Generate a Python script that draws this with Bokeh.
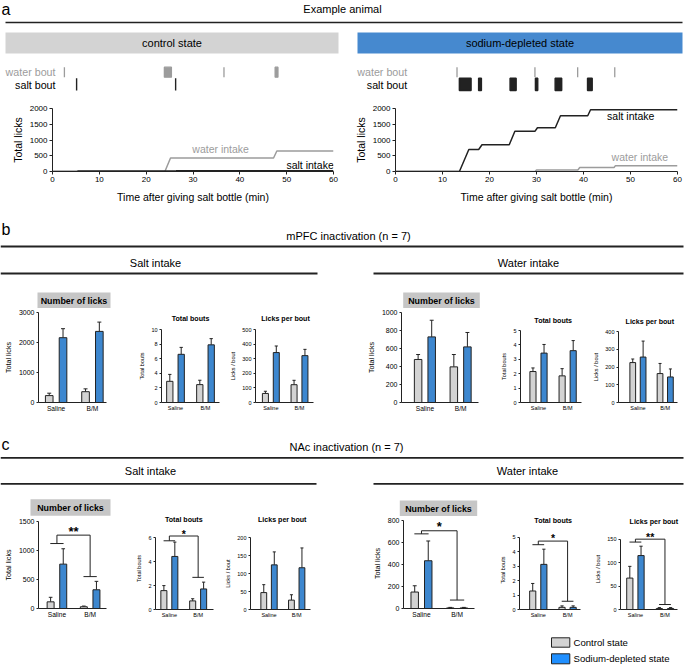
import numpy as np
from bokeh.plotting import figure
from bokeh.layouts import column, row
from bokeh.models import Range1d, FixedTicker
from bokeh.core.properties import value
from bokeh.embed import file_html
from bokeh.resources import INLINE

# ---------------- data: panel a (example animal) ----------------
time_ticks = [0, 10, 20, 30, 40, 50, 60]
lick_ticks = [0, 500, 1000, 1500, 2000]

ctrl_water_time = [0, 24.0, 25.2, 47.2, 47.9, 60]
ctrl_water_licks = [0, 0, 430, 430, 650, 650]
ctrl_salt_time = [0, 5.2, 5.4, 26.2, 26.5, 60]
ctrl_salt_licks = [0, 0, 12, 12, 25, 25]
ctrl_water_bout_start = [2.6, 23.9, 36.6, 47.5]
ctrl_water_bout_end = [2.6, 25.4, 36.6, 48.1]
ctrl_salt_bout_start = [5.2, 26.3]
ctrl_salt_bout_end = [5.2, 26.3]

dep_salt_time = [0, 13.6, 15.6, 17.7, 18.4, 24.2, 25.4, 29.7, 30.2, 34.0, 35.1, 40.9, 41.5, 60]
dep_salt_licks = [0, 0, 700, 700, 850, 850, 1280, 1280, 1390, 1390, 1770, 1770, 1960, 1960]
dep_water_time = [0, 29.7, 30.0, 38.8, 39.2, 46.5, 46.8, 60]
dep_water_licks = [0, 0, 50, 50, 125, 125, 185, 185]
dep_water_bout_start = [13.1, 29.7, 38.8, 46.7]
dep_water_bout_end = [13.1, 29.7, 38.8, 46.7]
dep_salt_bout_start = [13.6, 17.7, 24.4, 29.8, 34.0, 40.9]
dep_salt_bout_end = [16.1, 18.3, 25.7, 30.3, 35.4, 41.9]

# ---------------- data: bar charts ----------------
groups = ["Saline", "B/M"]
legend_labels = ["Control state", "Sodium-depleted state"]

# mPFC inactivation - salt intake
mpfc_salt_licks_ctrl = [230, 360]
mpfc_salt_licks_ctrl_err = [80, 95]
mpfc_salt_licks_dep = [2160, 2370]
mpfc_salt_licks_dep_err = [300, 310]
mpfc_salt_bouts_ctrl = [2.9, 2.45]
mpfc_salt_bouts_ctrl_err = [0.95, 0.6]
mpfc_salt_bouts_dep = [6.6, 7.9]
mpfc_salt_bouts_dep_err = [0.95, 0.85]
mpfc_salt_lpb_ctrl = [62, 122]
mpfc_salt_lpb_ctrl_err = [15, 30]
mpfc_salt_lpb_dep = [342, 321]
mpfc_salt_lpb_dep_err = [45, 43]
# mPFC inactivation - water intake
mpfc_water_licks_ctrl = [478, 396]
mpfc_water_licks_ctrl_err = [55, 137]
mpfc_water_licks_dep = [729, 618]
mpfc_water_licks_dep_err = [185, 160]
mpfc_water_bouts_ctrl = [2.15, 1.85]
mpfc_water_bouts_ctrl_err = [0.25, 0.5]
mpfc_water_bouts_dep = [3.43, 3.6]
mpfc_water_bouts_dep_err = [0.6, 0.7]
mpfc_water_lpb_ctrl = [225, 163]
mpfc_water_lpb_ctrl_err = [20, 57]
mpfc_water_lpb_dep = [256, 144]
mpfc_water_lpb_dep_err = [90, 45]

# NAc inactivation - salt intake
nac_salt_licks_ctrl = [115, 30]
nac_salt_licks_ctrl_err = [78, 12]
nac_salt_licks_dep = [765, 323]
nac_salt_licks_dep_err = [265, 145]
nac_salt_bouts_ctrl = [1.58, 0.72]
nac_salt_bouts_ctrl_err = [0.42, 0.18]
nac_salt_bouts_dep = [4.44, 1.72]
nac_salt_bouts_dep_err = [1.2, 0.57]
nac_salt_lpb_ctrl = [47, 26]
nac_salt_lpb_ctrl_err = [22, 15]
nac_salt_lpb_dep = [124, 116]
nac_salt_lpb_dep_err = [36, 55]
# NAc inactivation - water intake
nac_water_licks_ctrl = [150, 5]
nac_water_licks_ctrl_err = [57, 5]
nac_water_licks_dep = [435, 5]
nac_water_licks_dep_err = [180, 5]
nac_water_bouts_ctrl = [1.28, 0.15]
nac_water_bouts_ctrl_err = [0.52, 0.1]
nac_water_bouts_dep = [3.12, 0.15]
nac_water_bouts_dep_err = [1.05, 0.1]
nac_water_lpb_ctrl = [67, 2]
nac_water_lpb_ctrl_err = [25, 2]
nac_water_lpb_dep = [115, 2]
nac_water_lpb_dep_err = [20, 2]

# significance brackets: (saline level, top level, B/M level, label, label y)
nac_salt_licks_sig = (1120, 1265, 550, "**", 1375)
nac_salt_bouts_sig = (5.75, 6.15, 2.69, "*", 6.55)
nac_water_licks_sig = (680, 708, 77, "*", 775)
nac_water_bouts_sig = (4.48, 4.73, 0.57, "*", 5.1)
nac_water_lpb_sig = (143.8, 150, 10.6, "**", 160)

# ---------------- styling ----------------
S = 1.0
FONT = "Liberation Sans"
GRAY_BAR = "#d3d3d3"
BLUE_BAR = "#3d87cf"
BLUE_HEAD = "#4689cf"
WATER = "#9c9c9c"
INK = "#222222"


def px(v):
    return int(round(v * S))


def fs(v):
    return f"{v * S:.2f}px"


def base_fig(fx0, fx1, top, bot, **kw):
    p = figure(width=px(fx1) - px(fx0), height=px(bot) - px(top),
               toolbar_location=None, output_backend="svg", frame_align=False, **kw)
    p.xgrid.visible = False
    p.ygrid.visible = False
    p.outline_line_color = None
    p.background_fill_color = None
    p.border_fill_color = None
    return p


def deco(x0, x1, y0, y1, xr=None):
    p = base_fig(x0, x1, y0, y1, x_range=xr if xr is not None else Range1d(x0, x1),
                 y_range=Range1d(y1, y0),
                 min_border=0, min_border_left=0, min_border_right=0,
                 min_border_top=0, min_border_bottom=0)
    p.xaxis.visible = False
    p.yaxis.visible = False
    return p


def dtext(p, x, y, t, size, align="center", color="black", style="normal", xo=0):
    p.text(x=[x], y=[y], text=[t], text_font=value(FONT), text_font_size=value(fs(size)),
           text_align=align, text_baseline="middle", text_color=color,
           text_font_style=style, x_offset=xo)


def style_axes(p, tick_fs, lab_fs, xl_fs, tick_out=2):
    for ax in (p.xaxis[0], p.yaxis[0]):
        ax.axis_line_color = INK
        ax.axis_line_width = 1
        ax.major_tick_line_color = INK
        ax.major_tick_in = 0
        ax.major_tick_out = tick_out
        ax.minor_tick_line_color = None
        ax.major_label_text_font = FONT
        ax.major_label_text_color = "black"
        ax.axis_label_text_font = FONT
        ax.axis_label_text_font_style = "normal"
        ax.axis_label_text_color = "black"
        ax.major_label_standoff = 2
        ax.axis_label_standoff = 3
    p.yaxis[0].major_label_text_font_size = fs(tick_fs)
    p.xaxis[0].major_label_text_font_size = fs(xl_fs)
    p.yaxis[0].axis_label_text_font_size = fs(lab_fs)
    p.xaxis[0].axis_label_text_font_size = fs(lab_fs)


# ---------------- panel a ----------------
def panel_a(fx0, fx1, ax, ae, wt, wl, st, sl, wbs, wbe, sbs, sbe, lab_end, lab_pos):
    top, split, bot, y0, ytp = 57, 103, 205, 172, 108
    pxpm = (ae - ax) / (time_ticks[-1] - time_ticks[0])
    # bout raster (shares the time scale of the plot below)
    xr = Range1d(time_ticks[0] - (ax - fx0) / pxpm, time_ticks[-1] + (fx1 - ae) / pxpm)
    pb = deco(fx0, fx1, top, split, xr=xr)
    pb.quad(left=wbs, right=wbe, top=66.7, bottom=76.7,
            fill_color=WATER, line_color=WATER, line_width=1.3)
    pb.quad(left=sbs, right=sbe, top=77.7, bottom=90,
            fill_color=INK, line_color=INK, line_width=1.4)
    lx = (lab_end - ax) / pxpm
    dtext(pb, lx, 71.7, "water bout", 10.7, align="right", color=WATER)
    dtext(pb, lx, 84.5, "salt bout", 10.7, align="right", color="black")

    p = base_fig(fx0, fx1, split, bot,
                 x_range=Range1d(time_ticks[0], time_ticks[-1]),
                 y_range=Range1d(0, lick_ticks[-1]),
                 min_border_left=px(ax) - px(fx0), min_border_right=px(fx1) - px(ae),
                 min_border_top=px(ytp) - px(split), min_border_bottom=px(bot) - px(y0))
    p.line(wt, wl, line_color=WATER, line_width=1.5)
    p.line(st, sl, line_color=INK, line_width=1.5)
    (wx, wy), (sx, sy) = lab_pos
    p.text(x=[wx], y=[wy], text=["water intake"], text_font=value(FONT),
           text_font_size=value(fs(10.5)), text_align="center", text_baseline="middle",
           text_color=WATER)
    p.text(x=[sx], y=[sy], text=["salt intake"], text_font=value(FONT),
           text_font_size=value(fs(10.5)), text_align="center", text_baseline="middle",
           text_color="black")
    style_axes(p, 8, 10.5, 8, tick_out=3)
    p.yaxis.ticker = FixedTicker(ticks=lick_ticks)
    p.yaxis.axis_label = "Total licks"
    p.xaxis.ticker = FixedTicker(ticks=time_ticks)
    p.xaxis.axis_label = "Time after giving salt bottle (min)"
    p.xaxis.axis_label_standoff = 6
    return column(pb, p)


pa_left = panel_a(0, 345, 51.7, 333.3, ctrl_water_time, ctrl_water_licks,
                  ctrl_salt_time, ctrl_salt_licks, ctrl_water_bout_start, ctrl_water_bout_end,
                  ctrl_salt_bout_start, ctrl_salt_bout_end, 55,
                  ((35.9, 719), (55.0, 219)))
pa_right = panel_a(345, 684, 395, 676.7, dep_water_time, dep_water_licks,
                   dep_salt_time, dep_salt_licks, dep_water_bout_start, dep_water_bout_end,
                   dep_salt_bout_start, dep_salt_bout_end, 406.7,
                   ((52, 469), (50.05, 1750)))


# ---------------- bar charts ----------------
def bar_chart(L, band, ctrl, ctrl_err, dep, dep_err, yticks, ylabel, title, big, sig=None):
    bt, bb = band
    split = L["split"]
    sp = L["g2"] - L["g1"]
    xs = 1 - (L["g1"] - L["ax"]) / sp
    xe = 2 + (L["ae"] - L["g2"]) / sp
    upp = yticks[-1] / (L["y0"] - L["ytp"])
    ye = (L["y0"] - L["ft"]) * upp

    # title strip
    pt = deco(L["fx0"], L["fx1"], bt, split)
    if big:
        bx0, bx1, by0, by1 = L["box"]
        pt.quad(left=[bx0], right=[bx1], top=[by0], bottom=[by1],
                fill_color="#c6c6c6", line_color=None)
        dtext(pt, (bx0 + bx1) / 2, (by0 + by1) / 2 + 0.3, title, 8.9, style="bold")
    else:
        tx, ty = L["tpos"]
        dtext(pt, tx, ty, title, 7.1, style="bold")

    p = base_fig(L["fx0"], L["fx1"], split, bb,
                 x_range=Range1d(xs, xe), y_range=Range1d(0, ye),
                 min_border_left=px(L["ax"]) - px(L["fx0"]),
                 min_border_right=px(L["fx1"]) - px(L["ae"]),
                 min_border_top=px(L["ft"]) - px(split),
                 min_border_bottom=px(bb) - px(L["y0"]))
    pos = np.array([1.0, 2.0])
    off, bw, cw = 0.19, 0.21, 0.055
    for xo, vals, errs, col in ((-off, ctrl, ctrl_err, GRAY_BAR), (off, dep, dep_err, BLUE_BAR)):
        xx = pos + xo
        tops = np.array(vals) + np.array(errs)
        p.segment(x0=xx, y0=vals, x1=xx, y1=tops, line_color=INK, line_width=1)
        p.segment(x0=xx - cw, y0=tops, x1=xx + cw, y1=tops, line_color=INK, line_width=1)
        p.vbar(x=xx, top=vals, width=bw, fill_color=col, line_color=INK, line_width=1)
    if sig is not None:
        lv, tv, rv, txt, ty = sig
        h = 0.2
        p.segment(x0=[1 - h, 1, 1, 2, 2 - h], y0=[lv, lv, tv, tv, rv],
                  x1=[1 + h, 1, 2, 2, 2 + h], y1=[lv, tv, tv, rv, rv],
                  line_color=INK, line_width=1)
        ssz = 13 if big else 10.5
        p.text(x=[1.5], y=[ty], text=[txt], text_font=value(FONT),
               text_font_size=value(fs(ssz)), text_font_style="bold",
               text_align="center", text_baseline="middle", y_offset=0.22 * ssz * S)
    if big:
        style_axes(p, 7, 7.2, 6.6)
    else:
        style_axes(p, 5.5, 5.6, 5.5)
    p.yaxis.ticker = FixedTicker(ticks=yticks)
    p.yaxis.bounds = (0, yticks[-1])
    p.yaxis.axis_label = ylabel
    p.xaxis.ticker = FixedTicker(ticks=[1, 2])
    p.xaxis.major_label_overrides = {1: groups[0], 2: groups[1]}
    p.xaxis.major_tick_line_color = None
    p.xaxis.major_tick_out = 0
    return column(pt, p)


band_b = (280, 415)
band_c = (490, 620)

B = [
    dict(fx0=0, fx1=118, ax=38.3, ae=106, g1=55.85, g2=92, y0=402, ytp=312, ft=312, split=308,
         box=(37, 110, 292, 308)),
    dict(fx0=118, fx1=225, ax=161, ae=219, g1=175, g2=205, y0=402.3, ytp=329, ft=329, split=325,
         tpos=(190, 318)),
    dict(fx0=225, fx1=345, ax=255, ae=313, g1=270.35, g2=299, y0=402, ytp=329.3, ft=329.3, split=325,
         tpos=(285, 318)),
    dict(fx0=345, fx1=492, ax=401, ae=478.3, g1=424.5, g2=460.35, y0=402.3, ytp=312.3, ft=312.3,
         split=308.5, box=(402.7, 479.3, 292.3, 308.3)),
    dict(fx0=492, fx1=590, ax=520, ae=581, g1=538, g2=567.15, y0=402.3, ytp=330, ft=330, split=326,
         tpos=(552.7, 320.7)),
    dict(fx0=590, fx1=684, ax=614, ae=676.7, g1=634.65, g2=663.65, y0=402.3, ytp=331, ft=331,
         split=326, tpos=(649.3, 321)),
]
C = [
    dict(fx0=0, fx1=118, ax=33.3, ae=106, g1=53, g2=88.5, y0=609, ytp=520.7, ft=520.7, split=516.5,
         box=(30, 110, 499, 515.7)),
    dict(fx0=118, fx1=222, ax=155, ae=213, g1=168.85, g2=197.65, y0=609, ytp=537.3, ft=527,
         split=524, tpos=(183.3, 519.3)),
    dict(fx0=222, fx1=345, ax=248.3, ae=310, g1=267.35, g2=295.8, y0=609.3, ytp=536.7, ft=536.7,
         split=532, tpos=(281.7, 519.3)),
    dict(fx0=345, fx1=490, ax=403.3, ae=474, g1=421.2, g2=456.65, y0=609.3, ytp=520.7, ft=518.5,
         split=516, box=(399.3, 476.7, 500, 515.7)),
    dict(fx0=490, fx1=592, ax=519.3, ae=580, g1=538, g2=567.15, y0=609.3, ytp=536.7, ft=530,
         split=526, tpos=(552.7, 520.7)),
    dict(fx0=592, fx1=684, ax=620, ae=677.3, g1=635, g2=664.7, y0=609.3, ytp=538.7, ft=528,
         split=525.5, tpos=(653.3, 520.7)),
]

row_b = row(
    bar_chart(B[0], band_b, mpfc_salt_licks_ctrl, mpfc_salt_licks_ctrl_err, mpfc_salt_licks_dep,
              mpfc_salt_licks_dep_err, [0, 1000, 2000, 3000], "Total licks", "Number of licks", True),
    bar_chart(B[1], band_b, mpfc_salt_bouts_ctrl, mpfc_salt_bouts_ctrl_err, mpfc_salt_bouts_dep,
              mpfc_salt_bouts_dep_err, [0, 2, 4, 6, 8, 10], "Total bouts", "Total bouts", False),
    bar_chart(B[2], band_b, mpfc_salt_lpb_ctrl, mpfc_salt_lpb_ctrl_err, mpfc_salt_lpb_dep,
              mpfc_salt_lpb_dep_err, [0, 100, 200, 300, 400, 500], "Licks / bout", "Licks per bout", False),
    bar_chart(B[3], band_b, mpfc_water_licks_ctrl, mpfc_water_licks_ctrl_err, mpfc_water_licks_dep,
              mpfc_water_licks_dep_err, [0, 200, 400, 600, 800, 1000], "Total licks", "Number of licks", True),
    bar_chart(B[4], band_b, mpfc_water_bouts_ctrl, mpfc_water_bouts_ctrl_err, mpfc_water_bouts_dep,
              mpfc_water_bouts_dep_err, [0, 1, 2, 3, 4, 5], "Total bouts", "Total bouts", False),
    bar_chart(B[5], band_b, mpfc_water_lpb_ctrl, mpfc_water_lpb_ctrl_err, mpfc_water_lpb_dep,
              mpfc_water_lpb_dep_err, [0, 100, 200, 300, 400], "Licks / bout", "Licks per bout", False),
)
row_c = row(
    bar_chart(C[0], band_c, nac_salt_licks_ctrl, nac_salt_licks_ctrl_err, nac_salt_licks_dep,
              nac_salt_licks_dep_err, [0, 500, 1000, 1500], "Total licks", "Number of licks", True,
              nac_salt_licks_sig),
    bar_chart(C[1], band_c, nac_salt_bouts_ctrl, nac_salt_bouts_ctrl_err, nac_salt_bouts_dep,
              nac_salt_bouts_dep_err, [0, 2, 4, 6], "Total bouts", "Total bouts", False,
              nac_salt_bouts_sig),
    bar_chart(C[2], band_c, nac_salt_lpb_ctrl, nac_salt_lpb_ctrl_err, nac_salt_lpb_dep,
              nac_salt_lpb_dep_err, [0, 50, 100, 150, 200], "Licks / bout", "Licks per bout", False),
    bar_chart(C[3], band_c, nac_water_licks_ctrl, nac_water_licks_ctrl_err, nac_water_licks_dep,
              nac_water_licks_dep_err, [0, 200, 400, 600, 800], "Total licks", "Number of licks", True,
              nac_water_licks_sig),
    bar_chart(C[4], band_c, nac_water_bouts_ctrl, nac_water_bouts_ctrl_err, nac_water_bouts_dep,
              nac_water_bouts_dep_err, [0, 1, 2, 3, 4, 5], "Total bouts", "Total bouts", False,
              nac_water_bouts_sig),
    bar_chart(C[5], band_c, nac_water_lpb_ctrl, nac_water_lpb_ctrl_err, nac_water_lpb_dep,
              nac_water_lpb_dep_err, [0, 50, 100, 150], "Licks / bout", "Licks per bout", False,
              nac_water_lpb_sig),
)

# ---------------- decorations / headers ----------------
d1 = deco(0, 684, 0, 57)
dtext(d1, 1, 9, "a", 16, align="left")
dtext(d1, 342, 8, "Example animal", 11)
d1.segment(x0=[5], y0=[22], x1=[682], y1=[22], line_color=INK, line_width=1.5)
d1.quad(left=[5], right=[338], top=[32], bottom=[53], fill_color="#d3d3d3", line_color=None)
d1.quad(left=[357], right=[682], top=[32], bottom=[53], fill_color=BLUE_HEAD, line_color=None)
dtext(d1, 171.5, 42.5, "control state", 11)
dtext(d1, 519.5, 42.5, "sodium-depleted state", 11)

d4 = deco(0, 684, 205, 280)
dtext(d4, 1, 228.5, "b", 16, align="left")
dtext(d4, 348, 235.5, "mPFC inactivation (n = 7)", 11)
d4.segment(x0=[0, 0, 373], y0=[246, 273, 273], x1=[683, 317, 683], y1=[246, 273, 273],
           line_color=INK, line_width=1.8)
dtext(d4, 155, 262, "Salt intake", 11)
dtext(d4, 528, 262, "Water intake", 11)

d6 = deco(0, 684, 415, 490)
dtext(d6, 1, 444, "c", 16, align="left")
dtext(d6, 346, 446, "NAc inactivation (n = 7)", 11)
d6.segment(x0=[0, 0, 373], y0=[457.3, 483.3, 483.3], x1=[683, 316, 683], y1=[457.3, 483.3, 483.3],
           line_color=INK, line_width=1.8)
dtext(d6, 150, 470, "Salt intake", 11)
dtext(d6, 527, 470, "Water intake", 11)

d8 = deco(0, 684, 620, 666)
d8.quad(left=[551, 551], right=[569.3, 569.3], top=[637.3, 653.3], bottom=[646.7, 663.3],
        fill_color=[GRAY_BAR, "#1f8fff"], line_color=INK, line_width=1)
dtext(d8, 573, 642.3, legend_labels[0], 9.6, align="left")
dtext(d8, 573, 658.3, legend_labels[1], 9.6, align="left")

layout = column(d1, row(pa_left, pa_right), d4, row_b, d6, row_c, d8)

open("out.html", "w").write(file_html(layout, INLINE))
